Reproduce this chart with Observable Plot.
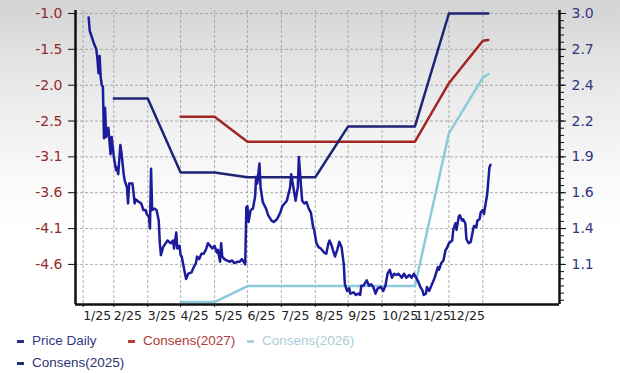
<!DOCTYPE html>
<html><head><meta charset="utf-8">
<script src="https://cdn.jsdelivr.net/npm/d3@7"></script>
<script src="https://cdn.jsdelivr.net/npm/@observablehq/plot@0.6"></script>
<style>
html,body{margin:0;padding:0;}
body{width:620px;height:373px;overflow:hidden;background:linear-gradient(to bottom,#d3d3d3 0px,#e8e8e8 80px,#f8f8f8 170px,#ffffff 230px);}
#legend{position:relative;width:620px;height:45px;font-family:"Liberation Sans",Arial,sans-serif;font-size:13.5px;}
.item{position:absolute;display:flex;align-items:center;white-space:nowrap;height:16px;line-height:16px;}
.sw{width:7px;height:3px;margin-right:8px;}
</style></head><body>
<div id="chart"></div><div id="legend"></div>
<script>
// ---- data ----
const baseDate = "2025-02-01";
const priceDays = [5,6,8,10,12,13,14,15,16,17,18,19,20,21,23,25,26,28,30,31,32,34,35,37,38,40,41,42,45,46,47,48,51,53,55,57,58,60,61,62,63,65,67,69,70,71,73,77,80,82,83,85,86,88,89,90,93,94,96,99,101,103,104,106,108,110,112,114,116,118,120,122,123,125,126,127,129,131,134,136,138,141,143,145,148,149,150,151,153,155,157,158,159,161,162,164,167,169,172,174,177,180,182,186,189,190,192,194,196,197,199,200,202,204,206,208,210,211,213,215,217,220,222,224,225,227,228,230,232,234,236,238,239,241,243,244,247,249,251,253,254,256,259,261,263,265,267,269,272,274,276,278,280,282,284,286,288,291,293,295,298,300,302,304,306,308,310,311,313,314,316,317,320,321,324,325,327,329,331,332,334,337,338,340,341,343,344,346,347,349,350,352,354,356,357,359,360,362,363,365,366,367,369,371,372];
const priceDaily = [2.95,2.85,2.80,2.75,2.71,2.64,2.53,2.66,2.50,2.44,
2.43,2.04,2.27,2.05,2.12,1.92,2.05,1.90,1.80,1.82,
1.77,1.99,1.93,1.77,1.72,1.67,1.55,1.70,1.70,1.63,
1.55,1.58,1.56,1.55,1.50,1.50,1.47,1.45,1.36,1.81,
1.50,1.51,1.50,1.42,1.25,1.16,1.22,1.27,1.25,1.27,
1.21,1.33,1.21,1.23,1.16,1.15,1.02,0.98,1.02,1.03,
1.07,1.10,1.15,1.13,1.17,1.17,1.20,1.25,1.23,1.21,
1.23,1.18,1.20,1.11,1.25,1.15,1.13,1.12,1.11,1.12,
1.10,1.11,1.11,1.13,1.09,1.52,1.53,1.41,1.50,1.51,
1.60,1.75,1.70,1.85,1.67,1.56,1.51,1.46,1.42,1.41,
1.43,1.48,1.53,1.57,1.67,1.77,1.67,1.57,1.67,1.90,
1.67,1.57,1.55,1.56,1.51,1.48,1.37,1.35,1.25,1.22,
1.21,1.18,1.17,1.25,1.27,1.23,1.20,1.15,1.20,1.26,
1.22,1.09,0.94,0.89,0.91,0.87,0.88,0.86,0.87,0.86,
0.93,0.93,0.97,0.93,0.94,0.92,0.87,0.91,0.92,0.89,
0.93,1.02,1.05,0.99,1.02,1.01,1.02,0.99,1.02,0.99,
1.01,0.99,1.02,0.99,0.96,0.92,0.89,0.86,0.87,0.92,
0.89,0.91,0.97,0.99,1.07,1.05,1.10,1.12,1.20,1.21,
1.25,1.27,1.35,1.40,1.35,1.45,1.46,1.42,1.43,1.40,
1.28,1.25,1.26,1.35,1.38,1.37,1.42,1.43,1.48,1.50,
1.47,1.52,1.62,1.82,1.84];

const cons2025Dates = ["2025-03-01","2025-04-01","2025-05-01","2025-06-01","2025-07-01","2025-08-01","2025-09-01","2025-10-01","2025-11-01","2025-12-01","2026-01-01","2026-02-01","2026-02-06"];
const cons2025 = [-2.22,-2.22,-3.28,-3.28,-3.35,-3.35,-3.35,-2.62,-2.62,-2.62,-1.00,-1.00,-1.00];
const cons2027Dates = ["2025-05-01","2025-06-01","2025-07-01","2025-08-01","2025-09-01","2025-10-01","2025-11-01","2025-12-01","2026-01-01","2026-02-01","2026-02-06"];
const cons2027 = [-2.48,-2.48,-2.84,-2.84,-2.84,-2.84,-2.84,-2.84,-2.00,-1.39,-1.38];
const cons2026Dates = ["2025-05-01","2025-06-01","2025-07-01","2025-08-01","2025-09-01","2025-10-01","2025-11-01","2025-12-01","2026-01-01","2026-02-01","2026-02-06"];
const cons2026 = [-5.14,-5.14,-4.91,-4.91,-4.91,-4.91,-4.91,-4.91,-2.72,-1.92,-1.87];

const leftTickValues = [-1.0,-1.514,-2.029,-2.543,-3.057,-3.571,-4.086,-4.6];
const leftTickLabels = ["-1.0","-1.5","-2.0","-2.5","-3.1","-3.6","-4.1","-4.6"];
const rightTickValues = [2.98,2.71,2.44,2.17,1.90,1.63,1.36,1.09];
const rightTickLabels = ["3.0","2.7","2.4","2.2","1.9","1.6","1.4","1.1"];
const monthTickDates = ["2025-02-01","2025-03-01","2025-04-01","2025-05-01","2025-06-01","2025-07-01","2025-08-01","2025-09-01","2025-10-01","2025-11-01","2025-12-01","2026-01-01","2026-02-01"];
const monthTickLabels = ["1/25","2/25","3/25","4/25","5/25","6/25","7/25","8/25","9/25","10/25","11/25","12/25",""];
const xDomain = ["2025-01-25","2026-04-12"];
const yDomain = [-5.175,-0.957];

const colors = {price:"#1b1b9c", c2025:"#1e2474", c2027:"#a22424", c2026:"#8ccadb"};

// ---- build ----
const d0 = new Date(baseDate).getTime();
const toLeft = p => leftTickValues[0] + (p - rightTickValues[0]) * (leftTickValues[7]-leftTickValues[0])/(rightTickValues[7]-rightTickValues[0]);
const price = priceDays.map((d,i) => ({date:new Date(d0 + d*864e5), v: toLeft(priceDaily[i])}));
const mk = (ds, vs) => ds.map((d,i) => ({date:new Date(d), v: vs[i]}));
const s2025 = mk(cons2025Dates, cons2025), s2027 = mk(cons2027Dates, cons2027), s2026 = mk(cons2026Dates, cons2026);
const monthTicks = monthTickDates.map(d => new Date(d));
const labelTicks = monthTicks.filter((d,i) => monthTickLabels[i] !== "");
const monthLabelMap = new Map(monthTicks.map((d,i)=>[d.getTime(), monthTickLabels[i]]));
const leftMap = new Map(leftTickValues.map((v,i)=>[v, leftTickLabels[i]]));
const rightPos = rightTickValues.map(toLeft);
const rightMap = new Map(rightPos.map((v,i)=>[v, rightTickLabels[i]]));
const rStep = (rightTickValues[0]-rightTickValues[7])/7/5;
const minorPos = d3.range(-6, 40).map(k => toLeft(rightTickValues[7] + k*rStep)).filter(v => v >= yDomain[0] && v <= yDomain[1]);
const xD = xDomain.map(d => new Date(d));

const chart = Plot.plot({
  width: 620, height: 328,
  marginLeft: 75, marginRight: 61, marginTop: 10, marginBottom: 24,
  style: {fontFamily: "DejaVu Sans, Verdana, sans-serif", fontSize: "14px", background: "transparent", overflow: "visible"},
  x: {type: "utc", domain: xD},
  y: {domain: yDomain},
  marks: [
    Plot.gridY(leftTickValues, {stroke: "#9a9a9a", strokeOpacity: 0.8, strokeDasharray: "3,2"}),
    Plot.gridX(monthTicks, {stroke: "#9a9a9a", strokeOpacity: 0.8, strokeDasharray: "3,2"}),
    Plot.line(s2026, {x: "date", y: "v", stroke: colors.c2026, strokeWidth: 2.5}),
    Plot.line(s2027, {x: "date", y: "v", stroke: colors.c2027, strokeWidth: 2.5}),
    Plot.line(s2025, {x: "date", y: "v", stroke: colors.c2025, strokeWidth: 2.5}),
    Plot.line(price, {x: "date", y: "v", stroke: colors.price, strokeWidth: 2.5}),
    Plot.axisY({anchor: "left", label: null, ticks: leftTickValues, tickFormat: d => leftMap.get(d), tickSize: 7, tickPadding: 6, stroke: "#111", fill: "#8e2c2c", fontSize: 14}),
    Plot.axisY({anchor: "right", label: null, ticks: rightPos, tickFormat: d => rightMap.get(d), tickSize: 6, tickPadding: 6, stroke: "#111", fill: "#34347f", fontSize: 14}),
    Plot.axisY({anchor: "right", label: null, ticks: minorPos, tickFormat: () => "", tickSize: 4, stroke: "#111"}),
    Plot.axisX({anchor: "bottom", label: null, ticks: labelTicks, tickFormat: d => monthLabelMap.get(d.getTime()), tickSize: 3, tickPadding: 4, textAnchor: "start", fill: "#222", stroke: "#111", fontSize: 12.5}),
    Plot.ruleX([xD[0]], {stroke: "#111", strokeWidth: 2.5}),
    Plot.ruleX([xD[1]], {stroke: "#111", strokeWidth: 2.5}),
    Plot.ruleY([yDomain[0]], {stroke: "#111", strokeWidth: 2.5})
  ]
});
document.getElementById("chart").appendChild(chart);

const legendItems = [
  {label: "Price Daily", color: "#2a2f8c", text: "#34378a", left: 17, top: 5},
  {label: "Consens(2027)", color: "#c03c3c", text: "#b03838", left: 128, top: 5},
  {label: "Consens(2026)", color: "#a8d3df", text: "#a9cdd8", left: 247, top: 5},
  {label: "Consens(2025)", color: "#25306e", text: "#2c3270", left: 17, top: 27}
];
const lg = d3.select("#legend");
legendItems.forEach(it => {
  const div = lg.append("div").attr("class", "item").style("left", it.left + "px").style("top", it.top + "px");
  div.append("span").attr("class", "sw").style("background", it.color);
  div.append("span").style("color", it.text).text(it.label);
});
</script></body></html>
